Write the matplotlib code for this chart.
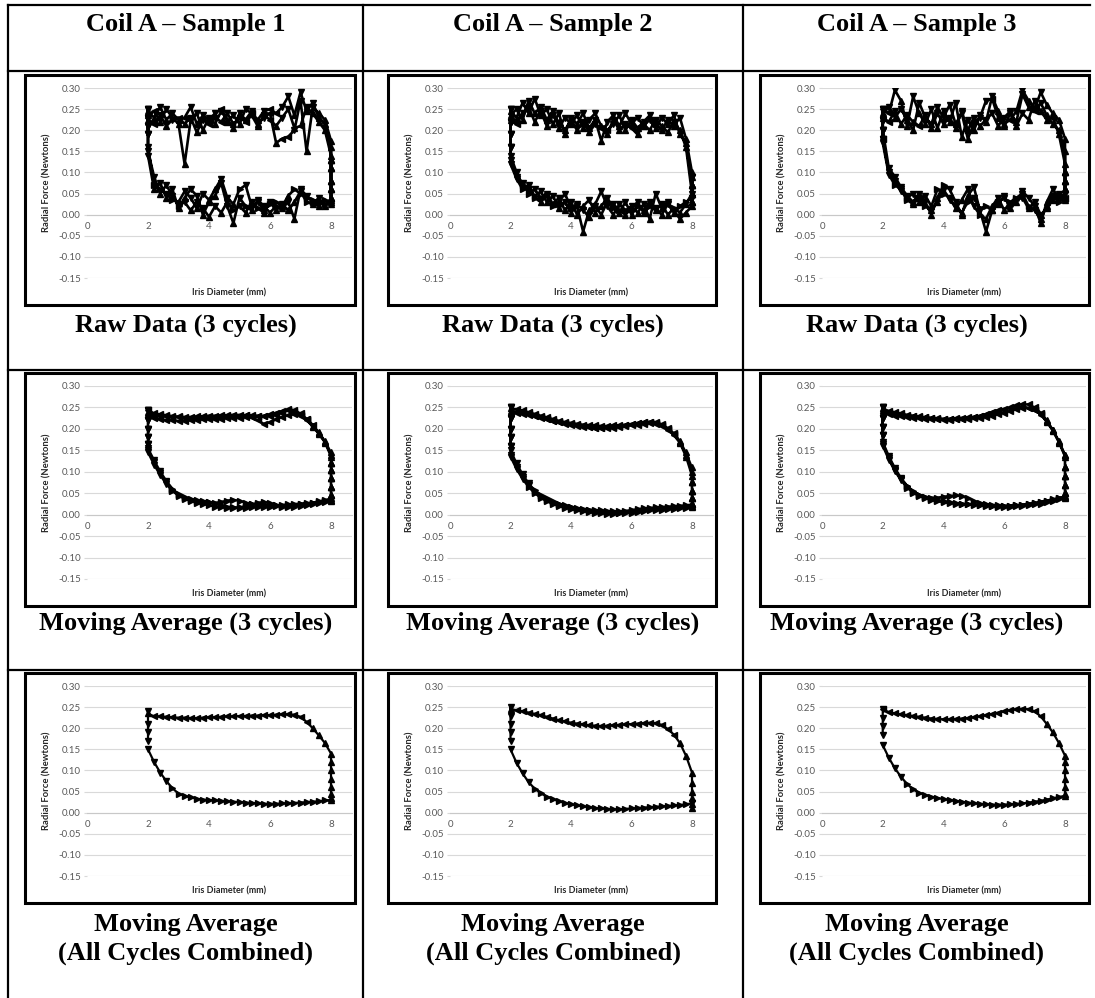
import matplotlib
matplotlib.use("Agg")
import matplotlib.pyplot as plt
from matplotlib.lines import Line2D
from matplotlib.patches import Rectangle

# ---------------- data ----------------
HEADERS = ["Coil A \u2013 Sample 1", "Coil A \u2013 Sample 2", "Coil A \u2013 Sample 3"]
CAPTIONS = [["Raw Data (3 cycles)"], ["Moving Average (3 cycles)"], ["Moving Average", "(All Cycles Combined)"]]
X_LABEL = "Iris Diameter (mm)"
Y_LABEL = "Radial Force (Newtons)"
Y_TICKS = [-0.15, -0.10, -0.05, 0.00, 0.05, 0.10, 0.15, 0.20, 0.25, 0.30]
X_TICKS = [0, 2, 4, 6, 8]

# common iris-diameter positions (mm) for the sweep branches
XG = [2.0, 2.2, 2.4, 2.6, 2.8, 3.0, 3.2, 3.4, 3.6, 3.8, 4.0, 4.2, 4.4, 4.6, 4.8,
      5.0, 5.2, 5.4, 5.6, 5.8, 6.0, 6.2, 6.4, 6.6, 6.8, 7.0, 7.2, 7.4, 7.6, 7.8, 8.0]
X_MIN_END = 2.0
X_MAX_END = 8.0

# ---- Sample 1, raw (3 cycles) ----
S1_RAW_UP = [
    [0.245, 0.230, 0.255, 0.225, 0.240, 0.225, 0.230, 0.255, 0.215, 0.235, 0.225, 0.240, 0.250, 0.220, 0.235, 0.215,
     0.250, 0.240, 0.225, 0.245, 0.250, 0.240, 0.255, 0.280, 0.235, 0.290, 0.245, 0.265, 0.230, 0.215, 0.160],
    [0.235, 0.245, 0.220, 0.250, 0.230, 0.215, 0.120, 0.225, 0.240, 0.200, 0.230, 0.215, 0.245, 0.225, 0.205, 0.240,
     0.225, 0.245, 0.215, 0.230, 0.240, 0.170, 0.180, 0.185, 0.200, 0.270, 0.150, 0.255, 0.240, 0.225, 0.175],
    [0.225, 0.215, 0.235, 0.210, 0.225, 0.230, 0.215, 0.230, 0.195, 0.225, 0.215, 0.230, 0.220, 0.240, 0.215, 0.230,
     0.220, 0.235, 0.210, 0.235, 0.225, 0.210, 0.230, 0.250, 0.205, 0.210, 0.255, 0.240, 0.220, 0.200, 0.140]]
S1_RAW_LO = [
    [0.160, 0.070, 0.060, 0.050, 0.035, 0.030, 0.055, 0.040, 0.015, 0.050, 0.035, 0.060, 0.085, 0.040, 0.025, 0.060,
     0.070, 0.020, 0.030, 0.010, 0.025, 0.030, 0.020, 0.045, 0.060, 0.050, 0.040, 0.035, 0.030, 0.025, 0.030],
    [0.140, 0.060, 0.075, 0.040, 0.060, 0.015, 0.040, 0.060, 0.045, 0.000, 0.030, 0.045, 0.075, 0.020, -0.020, 0.040,
     0.020, 0.010, 0.035, 0.020, 0.005, 0.020, 0.015, 0.030, -0.010, 0.060, 0.045, 0.030, 0.020, 0.035, 0.025],
    [0.150, 0.090, 0.050, 0.070, 0.045, 0.020, 0.030, 0.010, 0.030, 0.015, -0.005, 0.020, 0.005, 0.030, 0.010, 0.020,
     0.005, 0.030, 0.015, 0.005, 0.030, 0.010, 0.025, 0.010, 0.030, 0.055, 0.030, 0.025, 0.040, 0.020, 0.035]]
S1_RAW_RIGHT = [0.04, 0.06, 0.08, 0.11, 0.13]
S1_RAW_LEFT = [0.25, 0.23, 0.21, 0.19]

# ---- Sample 2, raw (3 cycles) ----
S2_RAW_UP = [
    [0.245, 0.230, 0.265, 0.240, 0.275, 0.235, 0.250, 0.215, 0.240, 0.190, 0.230, 0.215, 0.240, 0.205, 0.225, 0.175,
     0.220, 0.235, 0.210, 0.240, 0.215, 0.230, 0.210, 0.225, 0.205, 0.230, 0.215, 0.235, 0.190, 0.170, 0.070],
    [0.235, 0.250, 0.225, 0.270, 0.240, 0.255, 0.225, 0.245, 0.205, 0.230, 0.215, 0.235, 0.205, 0.225, 0.240, 0.210,
     0.200, 0.215, 0.235, 0.200, 0.225, 0.205, 0.220, 0.235, 0.215, 0.200, 0.225, 0.210, 0.230, 0.180, 0.100],
    [0.225, 0.215, 0.240, 0.255, 0.220, 0.245, 0.210, 0.235, 0.220, 0.200, 0.225, 0.200, 0.220, 0.195, 0.215, 0.205,
     0.190, 0.225, 0.200, 0.215, 0.205, 0.190, 0.215, 0.200, 0.225, 0.210, 0.195, 0.220, 0.200, 0.160, 0.050]]
S2_RAW_LO = [
    [0.140, 0.100, 0.070, 0.060, 0.045, 0.055, 0.030, 0.045, 0.015, 0.030, 0.005, 0.020, -0.040, 0.010, 0.025, 0.055,
     0.020, 0.000, 0.025, 0.010, 0.020, 0.005, 0.025, -0.010, 0.050, 0.015, 0.030, 0.010, -0.010, 0.005, 0.020],
    [0.130, 0.090, 0.075, 0.050, 0.060, 0.040, 0.050, 0.025, 0.040, 0.010, 0.030, 0.000, 0.020, 0.035, 0.005, 0.020,
     0.040, 0.015, 0.005, 0.030, 0.000, 0.020, 0.010, 0.030, 0.015, 0.000, 0.025, 0.005, 0.020, 0.030, 0.040],
    [0.120, 0.085, 0.060, 0.070, 0.040, 0.030, 0.045, 0.020, 0.030, 0.050, 0.015, 0.025, 0.010, -0.005, 0.020, 0.000,
     0.030, 0.025, 0.010, 0.000, 0.015, 0.030, 0.005, 0.020, 0.010, 0.025, 0.000, 0.015, 0.005, 0.025, 0.050]]
S2_RAW_RIGHT = [0.03, 0.05, 0.07, 0.09]
S2_RAW_LEFT = [0.25, 0.22, 0.19, 0.16]

# ---- Sample 3, raw (3 cycles) ----
S3_RAW_UP = [
    [0.250, 0.240, 0.295, 0.270, 0.210, 0.280, 0.240, 0.215, 0.250, 0.205, 0.245, 0.220, 0.265, 0.185, 0.225, 0.200,
     0.235, 0.220, 0.280, 0.245, 0.215, 0.225, 0.245, 0.295, 0.270, 0.250, 0.290, 0.260, 0.240, 0.225, 0.180],
    [0.240, 0.255, 0.230, 0.250, 0.225, 0.200, 0.265, 0.230, 0.215, 0.255, 0.230, 0.260, 0.215, 0.240, 0.180, 0.215,
     0.230, 0.270, 0.275, 0.230, 0.210, 0.240, 0.220, 0.285, 0.255, 0.245, 0.265, 0.235, 0.215, 0.200, 0.150],
    [0.230, 0.220, 0.245, 0.215, 0.235, 0.220, 0.210, 0.235, 0.205, 0.240, 0.215, 0.230, 0.205, 0.245, 0.200, 0.230,
     0.210, 0.225, 0.240, 0.210, 0.230, 0.245, 0.210, 0.240, 0.225, 0.270, 0.245, 0.225, 0.230, 0.190, 0.120]]
S3_RAW_LO = [
    [0.200, 0.110, 0.090, 0.065, 0.045, 0.030, 0.050, 0.030, 0.000, 0.040, 0.070, 0.060, 0.030, 0.000, 0.045, 0.065,
     0.010, -0.040, 0.010, 0.030, 0.040, 0.020, 0.030, 0.055, 0.040, 0.020, -0.020, 0.030, 0.060, 0.040, 0.050],
    [0.180, 0.100, 0.080, 0.055, 0.040, 0.050, 0.030, 0.045, 0.020, 0.060, 0.050, 0.040, 0.015, 0.035, 0.060, 0.020,
     0.000, -0.010, 0.020, 0.040, 0.010, 0.030, 0.040, 0.050, 0.020, 0.010, -0.010, 0.020, 0.045, 0.030, 0.040],
    [0.170, 0.095, 0.070, 0.060, 0.035, 0.025, 0.040, 0.020, 0.010, 0.030, 0.060, 0.035, 0.020, 0.005, 0.030, 0.040,
     0.015, 0.020, 0.010, 0.025, 0.045, 0.015, 0.035, 0.040, 0.015, 0.030, 0.000, 0.015, 0.035, 0.050, 0.035]]
S3_RAW_RIGHT = [0.04, 0.06, 0.08, 0.10]
S3_RAW_LEFT = [0.25, 0.225, 0.20, 0.18]

# ---- Sample 1, moving average (3 cycles) ----
S1_MA_UP = [
    [0.240, 0.232, 0.230, 0.229, 0.228, 0.227, 0.226, 0.226, 0.226, 0.227, 0.228, 0.228, 0.229, 0.230, 0.230, 0.231,
     0.232, 0.232, 0.231, 0.229, 0.230, 0.233, 0.238, 0.243, 0.240, 0.232, 0.222, 0.207, 0.190, 0.170, 0.140],
    [0.245, 0.236, 0.234, 0.232, 0.230, 0.229, 0.228, 0.228, 0.229, 0.230, 0.231, 0.231, 0.232, 0.232, 0.233, 0.233,
     0.232, 0.228, 0.220, 0.212, 0.215, 0.222, 0.228, 0.232, 0.234, 0.230, 0.220, 0.205, 0.188, 0.168, 0.135],
    [0.235, 0.226, 0.222, 0.221, 0.220, 0.219, 0.219, 0.220, 0.221, 0.222, 0.222, 0.223, 0.224, 0.225, 0.226, 0.226,
     0.227, 0.228, 0.229, 0.231, 0.234, 0.238, 0.242, 0.246, 0.244, 0.236, 0.224, 0.210, 0.192, 0.172, 0.145]]
S1_MA_LO = [
    [0.150, 0.122, 0.097, 0.075, 0.058, 0.046, 0.039, 0.035, 0.032, 0.030, 0.029, 0.028, 0.030, 0.033, 0.035, 0.032,
     0.028, 0.025, 0.024, 0.023, 0.022, 0.022, 0.023, 0.024, 0.025, 0.026, 0.027, 0.028, 0.030, 0.032, 0.035],
    [0.145, 0.116, 0.092, 0.071, 0.055, 0.044, 0.037, 0.032, 0.028, 0.025, 0.022, 0.019, 0.017, 0.016, 0.015, 0.017,
     0.020, 0.024, 0.028, 0.030, 0.027, 0.022, 0.019, 0.018, 0.019, 0.021, 0.023, 0.025, 0.027, 0.030, 0.032],
    [0.155, 0.127, 0.101, 0.079, 0.061, 0.048, 0.041, 0.037, 0.034, 0.032, 0.030, 0.026, 0.022, 0.019, 0.017, 0.016,
     0.016, 0.017, 0.018, 0.018, 0.019, 0.020, 0.020, 0.021, 0.022, 0.024, 0.026, 0.028, 0.031, 0.034, 0.038]]
S1_MA_RIGHT = [0.045, 0.065, 0.085, 0.105, 0.12]
S1_MA_LEFT = [0.245, 0.22, 0.20, 0.18, 0.165]

# ---- Sample 2, moving average (3 cycles) ----
S2_MA_UP = [
    [0.248, 0.246, 0.243, 0.239, 0.235, 0.231, 0.227, 0.223, 0.219, 0.216, 0.214, 0.212, 0.210, 0.209, 0.208, 0.207,
     0.207, 0.208, 0.209, 0.210, 0.212, 0.214, 0.215, 0.216, 0.214, 0.209, 0.200, 0.188, 0.170, 0.140, 0.100],
    [0.242, 0.240, 0.238, 0.235, 0.231, 0.227, 0.223, 0.219, 0.216, 0.213, 0.211, 0.209, 0.207, 0.205, 0.203, 0.202,
     0.202, 0.203, 0.204, 0.206, 0.208, 0.210, 0.212, 0.213, 0.212, 0.207, 0.198, 0.185, 0.167, 0.135, 0.090],
    [0.238, 0.236, 0.235, 0.233, 0.230, 0.226, 0.222, 0.218, 0.215, 0.212, 0.210, 0.207, 0.205, 0.204, 0.203, 0.203,
     0.204, 0.205, 0.207, 0.209, 0.211, 0.213, 0.215, 0.217, 0.216, 0.211, 0.202, 0.190, 0.172, 0.145, 0.110]]
S2_MA_LO = [
    [0.140, 0.112, 0.088, 0.069, 0.054, 0.043, 0.035, 0.029, 0.024, 0.020, 0.017, 0.014, 0.012, 0.010, 0.008, 0.007,
     0.006, 0.005, 0.005, 0.006, 0.007, 0.009, 0.011, 0.013, 0.014, 0.015, 0.016, 0.017, 0.018, 0.019, 0.020],
    [0.150, 0.120, 0.094, 0.073, 0.057, 0.046, 0.038, 0.031, 0.026, 0.022, 0.019, 0.016, 0.014, 0.012, 0.011, 0.010,
     0.009, 0.008, 0.008, 0.009, 0.011, 0.013, 0.015, 0.016, 0.017, 0.018, 0.019, 0.020, 0.021, 0.022, 0.024],
    [0.135, 0.106, 0.083, 0.064, 0.050, 0.039, 0.031, 0.025, 0.020, 0.016, 0.013, 0.010, 0.008, 0.006, 0.004, 0.003,
     0.002, 0.002, 0.003, 0.004, 0.005, 0.007, 0.009, 0.010, 0.011, 0.012, 0.013, 0.014, 0.015, 0.016, 0.017]]
S2_MA_RIGHT = [0.025, 0.04, 0.055, 0.075]
S2_MA_LEFT = [0.25, 0.225, 0.20, 0.18, 0.16]

# ---- Sample 3, moving average (3 cycles) ----
S3_MA_UP = [
    [0.245, 0.238, 0.235, 0.233, 0.231, 0.229, 0.228, 0.227, 0.226, 0.225, 0.224, 0.224, 0.225, 0.226, 0.227, 0.228,
     0.230, 0.233, 0.236, 0.240, 0.245, 0.250, 0.255, 0.258, 0.257, 0.250, 0.238, 0.220, 0.198, 0.172, 0.140],
    [0.240, 0.234, 0.231, 0.229, 0.227, 0.226, 0.225, 0.224, 0.223, 0.222, 0.221, 0.221, 0.222, 0.223, 0.224, 0.225,
     0.226, 0.228, 0.231, 0.234, 0.238, 0.242, 0.246, 0.249, 0.249, 0.244, 0.233, 0.216, 0.195, 0.168, 0.135],
    [0.248, 0.242, 0.239, 0.236, 0.233, 0.231, 0.229, 0.227, 0.225, 0.223, 0.222, 0.222, 0.223, 0.224, 0.226, 0.228,
     0.231, 0.235, 0.240, 0.244, 0.247, 0.249, 0.250, 0.251, 0.249, 0.244, 0.234, 0.218, 0.197, 0.170, 0.138]]
S3_MA_LO = [
    [0.165, 0.132, 0.105, 0.083, 0.066, 0.053, 0.046, 0.042, 0.040, 0.040, 0.042, 0.044, 0.045, 0.043, 0.038, 0.032,
     0.028, 0.025, 0.023, 0.022, 0.021, 0.021, 0.022, 0.023, 0.025, 0.027, 0.029, 0.032, 0.035, 0.038, 0.042],
    [0.160, 0.128, 0.101, 0.080, 0.063, 0.051, 0.043, 0.038, 0.034, 0.031, 0.029, 0.027, 0.026, 0.025, 0.024, 0.023,
     0.022, 0.021, 0.020, 0.019, 0.019, 0.019, 0.020, 0.021, 0.022, 0.024, 0.026, 0.029, 0.032, 0.036, 0.040],
    [0.170, 0.137, 0.109, 0.086, 0.068, 0.055, 0.047, 0.041, 0.037, 0.034, 0.031, 0.029, 0.027, 0.026, 0.025, 0.024,
     0.023, 0.022, 0.021, 0.020, 0.020, 0.021, 0.022, 0.023, 0.025, 0.027, 0.030, 0.033, 0.036, 0.039, 0.043]]
S3_MA_RIGHT = [0.05, 0.07, 0.09, 0.11]
S3_MA_LEFT = [0.25, 0.225, 0.205, 0.185]

# ---- moving average, all cycles combined ----
S1_ALL_UP = [[0.235, 0.228, 0.228, 0.227, 0.226, 0.225, 0.225, 0.224, 0.224, 0.225, 0.226, 0.226, 0.227, 0.228, 0.228, 0.229,
              0.229, 0.230, 0.230, 0.231, 0.231, 0.232, 0.233, 0.233, 0.232, 0.227, 0.215, 0.200, 0.183, 0.165, 0.140]]
S1_ALL_LO = [[0.150, 0.120, 0.095, 0.075, 0.058, 0.045, 0.040, 0.036, 0.033, 0.031, 0.030, 0.029, 0.028, 0.027, 0.026, 0.025,
              0.024, 0.023, 0.022, 0.021, 0.021, 0.021, 0.022, 0.022, 0.023, 0.024, 0.025, 0.026, 0.027, 0.029, 0.030]]
S1_ALL_RIGHT = [0.035, 0.045, 0.06, 0.08, 0.10, 0.12]
S1_ALL_LEFT = [0.24, 0.21, 0.19, 0.17]

S2_ALL_UP = [[0.245, 0.243, 0.240, 0.237, 0.234, 0.231, 0.227, 0.223, 0.219, 0.216, 0.213, 0.211, 0.209, 0.207, 0.206, 0.205,
              0.206, 0.207, 0.208, 0.209, 0.210, 0.211, 0.212, 0.213, 0.212, 0.208, 0.198, 0.185, 0.165, 0.135, 0.095]]
S2_ALL_LO = [[0.150, 0.118, 0.093, 0.072, 0.057, 0.046, 0.038, 0.032, 0.027, 0.023, 0.020, 0.017, 0.015, 0.013, 0.011, 0.010,
              0.009, 0.008, 0.008, 0.009, 0.010, 0.011, 0.012, 0.013, 0.014, 0.015, 0.016, 0.017, 0.018, 0.020, 0.022]]
S2_ALL_RIGHT = [0.01, 0.02, 0.035, 0.05, 0.07]
S2_ALL_LEFT = [0.25, 0.23, 0.21, 0.19, 0.17]

S3_ALL_UP = [[0.245, 0.238, 0.235, 0.233, 0.231, 0.229, 0.227, 0.225, 0.223, 0.222, 0.221, 0.221, 0.222, 0.223, 0.224, 0.226,
              0.228, 0.231, 0.234, 0.237, 0.240, 0.243, 0.245, 0.246, 0.245, 0.240, 0.228, 0.210, 0.190, 0.165, 0.135]]
S3_ALL_LO = [[0.160, 0.130, 0.105, 0.085, 0.068, 0.055, 0.047, 0.042, 0.038, 0.035, 0.032, 0.030, 0.028, 0.026, 0.024, 0.022,
              0.021, 0.020, 0.019, 0.019, 0.019, 0.020, 0.021, 0.022, 0.024, 0.026, 0.028, 0.031, 0.034, 0.037, 0.040]]
S3_ALL_RIGHT = [0.045, 0.06, 0.08, 0.10, 0.12]
S3_ALL_LEFT = [0.245, 0.225, 0.205, 0.185]

PANELS = [
    [(S1_RAW_UP, S1_RAW_LO, S1_RAW_RIGHT, S1_RAW_LEFT),
     (S2_RAW_UP, S2_RAW_LO, S2_RAW_RIGHT, S2_RAW_LEFT),
     (S3_RAW_UP, S3_RAW_LO, S3_RAW_RIGHT, S3_RAW_LEFT)],
    [(S1_MA_UP, S1_MA_LO, S1_MA_RIGHT, S1_MA_LEFT),
     (S2_MA_UP, S2_MA_LO, S2_MA_RIGHT, S2_MA_LEFT),
     (S3_MA_UP, S3_MA_LO, S3_MA_RIGHT, S3_MA_LEFT)],
    [(S1_ALL_UP, S1_ALL_LO, S1_ALL_RIGHT, S1_ALL_LEFT),
     (S2_ALL_UP, S2_ALL_LO, S2_ALL_RIGHT, S2_ALL_LEFT),
     (S3_ALL_UP, S3_ALL_LO, S3_ALL_RIGHT, S3_ALL_LEFT)],
]

# ---------------- layout (pixels) ----------------
W, H = 1095, 998
fig = plt.figure(figsize=(W / 100, H / 100), dpi=100)
fig.patch.set_facecolor("white")


def fx(px):
    return px / W


def fy(py):
    return 1 - py / H


TABLE_LEFT, TABLE_RIGHT = 8, 1090
ROW_LINES = [5, 71, 370, 670]
COL_LINES = [8, 363, 743]
CHART_COLS = [(25, 355), (388, 716), (760, 1089)]
CHART_ROWS = [(75, 305), (373, 606), (673, 903)]
CAPTION_Y = [[325], [623], [925, 953]]

for yy in ROW_LINES:
    fig.add_artist(Line2D([fx(TABLE_LEFT), fx(TABLE_RIGHT)], [fy(yy), fy(yy)],
                          color="black", lw=1.6, transform=fig.transFigure))
for xx in COL_LINES:
    fig.add_artist(Line2D([fx(xx), fx(xx)], [fy(5), fy(H + 2)],
                          color="black", lw=1.6, transform=fig.transFigure))

col_centers = [(COL_LINES[0] + COL_LINES[1]) / 2, (COL_LINES[1] + COL_LINES[2]) / 2,
               (COL_LINES[2] + TABLE_RIGHT) / 2]
SERIF = ["Liberation Serif", "DejaVu Serif"]
for c, t in enumerate(HEADERS):
    fig.text(fx(col_centers[c]), fy(24), t, ha="center", va="center",
             fontsize=19, fontweight="bold", family=SERIF)

SANS = ["Lato", "DejaVu Sans"]
GRID = "#d9d9d9"
TICKC = "#595959"


def marker_for(dxp, dyp):
    if abs(dyp) > abs(dxp):
        return "^" if dyp > 0 else "v"
    return ">" if dxp > 0 else "<"


def draw_panel(ax, ups, los, right, left, lw, ms):
    xs, ys = [], []
    for up, lo in zip(ups, los):
        xs += XG + [X_MAX_END] * len(right) + XG[::-1] + [X_MIN_END] * len(left)
        ys += lo + right + up[::-1] + left
    ax.plot(xs, ys, color="black", lw=lw, zorder=3, solid_joinstyle="round")
    pts = ax.transData.transform(list(zip(xs, ys)))
    groups = {}
    n = len(xs)
    for i in range(n):
        j = i + 1 if i + 1 < n else i
        k = i if i + 1 < n else i - 1
        dxp = pts[j][0] - pts[k][0]
        dyp = pts[j][1] - pts[k][1]
        m = marker_for(dxp, dyp)
        groups.setdefault(m, ([], []))
        groups[m][0].append(xs[i])
        groups[m][1].append(ys[i])
    for m, (gx, gy) in groups.items():
        ax.plot(gx, gy, ls="none", marker=m, ms=ms, color="black", zorder=4)


for r in range(3):
    cy0, cy1 = CHART_ROWS[r]
    for c in range(3):
        cx0, cx1 = CHART_COLS[c]
        # chart frame
        fig.add_artist(Rectangle((fx(cx0), fy(cy1)), (cx1 - cx0) / W, (cy1 - cy0) / H,
                                 fill=False, edgecolor="black", lw=2.2,
                                 transform=fig.transFigure, zorder=5))
        pl, pr = cx0 + 62, cx1 - 3
        pt, pb = cy0 + 13, cy1 - 27
        ax = fig.add_axes([fx(pl), fy(pb), (pr - pl) / W, (pb - pt) / H])
        ax.set_xlim(0, 8 * (pr - pl) / (pr - pl - 21))
        ax.set_ylim(Y_TICKS[0], Y_TICKS[-1])
        ax.set_yticks(Y_TICKS)
        ax.set_yticklabels([f"{v:.2f}" for v in Y_TICKS])
        ax.set_xticks(X_TICKS)
        ax.set_xticklabels([str(v) for v in X_TICKS])
        for s in ["top", "right", "left"]:
            ax.spines[s].set_visible(False)
        ax.spines["bottom"].set_position(("data", 0))
        ax.spines["bottom"].set_color("#c8c8c8")
        ax.spines["bottom"].set_linewidth(0.8)
        ax.grid(axis="y", color=GRID, lw=0.8)
        ax.set_axisbelow(True)
        ax.tick_params(axis="y", length=2.5, color=GRID, width=0.8, pad=2,
                       labelsize=7, labelcolor=TICKC)
        ax.tick_params(axis="x", length=0, pad=5, labelsize=7, labelcolor=TICKC)
        for lab in ax.get_xticklabels() + ax.get_yticklabels():
            lab.set_family(SANS)
        ups, los, right, left = PANELS[r][c]
        if r == 0:
            draw_panel(ax, ups, los, right, left, lw=1.9, ms=4.3)
        else:
            draw_panel(ax, ups, los, right, left, lw=1.6, ms=4.3)
        # axis titles
        fig.text(fx(cx0 + 22), fy((pt + pb) / 2), Y_LABEL, rotation=90, ha="center", va="center",
                 fontsize=6.8, fontweight="bold", color="#262626", family=SANS)
        fig.text(fx((pl + pr) / 2 + 10), fy(cy1 - 12), X_LABEL, ha="center", va="center",
                 fontsize=6.5, fontweight="bold", color="#262626", family=SANS)
    for c in range(3):
        for line, yy in zip(CAPTIONS[r], CAPTION_Y[r]):
            fig.text(fx(col_centers[c]), fy(yy), line, ha="center", va="center",
                     fontsize=19, fontweight="bold", family=SERIF)

fig.savefig("out.png", dpi=100, facecolor="white")
